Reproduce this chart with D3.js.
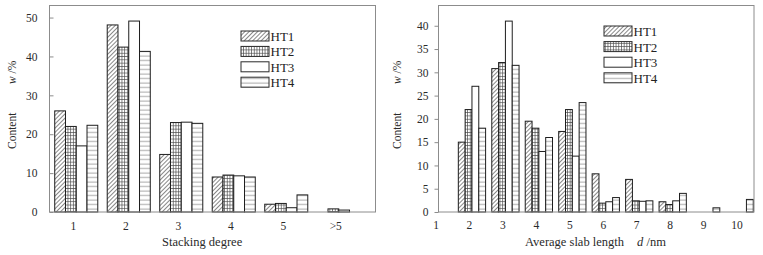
<!DOCTYPE html>
<html>
<head>
<meta charset="utf-8">
<script src="https://cdn.jsdelivr.net/npm/d3@7/dist/d3.min.js"></script>
<style>
    body { margin: 0; background: #fff; }
    svg { display: block; font-family: "Liberation Serif", "Times New Roman", serif; }
</style>
</head>
<body>
<svg id="chart" width="763" height="255"></svg>
<script>
const seriesNames = ['HT1', 'HT2', 'HT3', 'HT4'];

// left panel: stacking degree
const stackCats = ['1', '2', '3', '4', '5', '>5'];
const stackHT1 = [26.0, 48.1, 14.8, 9.0, 2.0, 0];
const stackHT2 = [22.0, 42.4, 23.0, 9.5, 2.2, 0.8];
const stackHT3 = [17.0, 49.1, 23.1, 9.3, 1.1, 0.5];
const stackHT4 = [22.3, 41.3, 22.8, 9.0, 4.4, 0];
const stackYTicks = [0, 10, 20, 30, 40, 50];

// right panel: average slab length
const lenCats = [2, 3, 4, 5, 6, 7, 8, 9, 10];
const lenHT1 = [15.0, 30.8, 19.5, 17.3, 8.2, 7.0, 2.2, 0, 0];
const lenHT2 = [22.0, 32.1, 18.0, 22.0, 1.9, 2.4, 1.6, 0, 0];
const lenHT3 = [27.0, 41.0, 13.0, 12.0, 2.2, 2.3, 2.4, 0, 0];
const lenHT4 = [18.0, 31.5, 16.0, 23.5, 3.1, 2.4, 4.0, 0.9, 2.7];
const lenXTicks = [1, 2, 3, 4, 5, 6, 7, 8, 9, 10];
const lenYTicks = [0, 5, 10, 15, 20, 25, 30, 35, 40];

const svg = d3.select('#chart');
const defs = svg.append('defs');

// fill patterns
let p1 = defs.append('pattern').attr('id', 'p-ht1')
    .attr('patternUnits', 'userSpaceOnUse').attr('width', 3).attr('height', 3)
    .attr('patternTransform', 'rotate(45)');
p1.append('rect').attr('width', 3).attr('height', 3).attr('fill', '#fff');
p1.append('line').attr('x1', 0.5).attr('y1', 0).attr('x2', 0.5).attr('y2', 3)
    .attr('stroke', '#6a6a6a').attr('stroke-width', 0.8);

let p2 = defs.append('pattern').attr('id', 'p-ht2')
    .attr('patternUnits', 'userSpaceOnUse').attr('width', 2.7).attr('height', 3.3);
p2.append('rect').attr('width', 2.7).attr('height', 3.3).attr('fill', '#fff');
p2.append('path').attr('d', 'M0.4,0V3.3M0,0.4H2.7')
    .attr('stroke', '#4a4a4a').attr('stroke-width', 0.7).attr('fill', 'none');

let p4 = defs.append('pattern').attr('id', 'p-ht4')
    .attr('patternUnits', 'userSpaceOnUse').attr('width', 4).attr('height', 4.5);
p4.append('rect').attr('width', 4).attr('height', 4.5).attr('fill', '#fff');
p4.append('line').attr('x1', 0).attr('y1', 2).attr('x2', 4).attr('y2', 2)
    .attr('stroke', '#8a8a8a').attr('stroke-width', 0.8);

const fills = { HT1: 'url(#p-ht1)', HT2: 'url(#p-ht2)', HT3: '#fff', HT4: 'url(#p-ht4)' };

class groupedBar {
    constructor(config) {
        this.config = config;
        this.init();
    }

    init() {
        let self = this;
        let c = self.config;
        self.g = svg.append('g');

        self.yscale = d3.scaleLinear().domain([0, c.yMax]).range([c.bottom, c.top]);

        if (c.linear) {
            self.xscale = d3.scaleLinear().domain(c.xDomain).range([c.left, c.right]);
            let unit = self.xscale(2) - self.xscale(1);
            let gw = unit * c.groupFrac;
            self.x1 = d3.scaleBand().domain(seriesNames).range([-gw / 2, gw / 2]);
            self.center = d => self.xscale(d);
        } else {
            self.xscale = d3.scaleBand().domain(c.cats).range(c.bandRange)
                .paddingInner(0.18).paddingOuter(0.09);
            let bw = self.xscale.bandwidth();
            self.x1 = d3.scaleBand().domain(seriesNames).range([-bw / 2, bw / 2]);
            self.center = d => self.xscale(d) + bw / 2;
        }
    }

    render() {
        let self = this;
        let c = self.config;

        // bars
        let rows = [];
        c.cats.forEach((cat, i) => {
            seriesNames.forEach((s, k) => {
                let v = c.values[k][i];
                if (v > 0) rows.push({ cat: cat, key: s, value: v });
            });
        });

        self.g.selectAll('.bar')
            .data(rows)
            .enter().append('rect')
            .attr('class', 'bar')
            .attr('x', d => self.center(d.cat) + self.x1(d.key))
            .attr('y', d => self.yscale(d.value))
            .attr('width', self.x1.bandwidth())
            .attr('height', d => self.yscale(0) - self.yscale(d.value))
            .attr('fill', d => fills[d.key])
            .attr('stroke', '#1e1e1e')
            .attr('stroke-width', 1);

        // frame
        self.g.append('rect')
            .attr('x', c.left).attr('y', c.top)
            .attr('width', c.right - c.left).attr('height', c.bottom - c.top)
            .attr('fill', 'none').attr('stroke', '#8c8c8c').attr('stroke-width', 1);

        // y axis
        let yaxis = d3.axisLeft(self.yscale).tickValues(c.yTicks)
            .tickSize(c.yTickSize).tickPadding(c.yTickPad);
        let yg = self.g.append('g').attr('transform', `translate(${c.left},0)`).call(yaxis);
        yg.select('.domain').remove();
        yg.selectAll('line').attr('stroke', '#8c8c8c');
        yg.selectAll('text').attr('font-size', 11.5).attr('fill', '#2a2a2a')
            .attr('font-family', '"Liberation Serif", serif');

        // x labels
        let xaxis = c.linear
            ? d3.axisBottom(self.xscale).tickValues(c.xTicks).tickSize(0)
            : d3.axisBottom(self.xscale).tickSize(0);
        let xg = self.g.append('g').attr('transform', `translate(0,${c.bottom})`).call(xaxis);
        xg.select('.domain').remove();
        xg.selectAll('text').attr('font-size', 11.5).attr('fill', '#2a2a2a')
            .attr('font-family', '"Liberation Serif", serif')
            .attr('dx', -3).attr('y', c.xLabelDy).attr('dy', 0);

        // x title
        let xt = self.g.append('text')
            .attr('x', c.xTitleX).attr('y', 245.5)
            .attr('font-size', 12.5).attr('fill', '#2a2a2a');
        xt.append('tspan').text(c.xTitle);
        if (c.xTitleUnit) {
            xt.append('tspan').attr('dx', 13).attr('font-style', 'italic').text('d');
            xt.append('tspan').text(' /nm');
        }

        // y title
        self.g.append('text')
            .attr('transform', `translate(${c.yTitleX},149) rotate(-90)`)
            .attr('font-size', 11.5).attr('fill', '#2a2a2a')
            .text('Content');
        let yt = self.g.append('text')
            .attr('transform', `translate(${c.yTitleX},84) rotate(-90)`)
            .attr('font-size', 11.5).attr('fill', '#2a2a2a');
        yt.append('tspan').attr('font-style', 'italic').text('w');
        yt.append('tspan').text(' /%');

        // legend
        let lg = self.g.append('g');
        seriesNames.forEach((s, k) => {
            let ly = c.legendY + k * c.legendStep;
            lg.append('rect')
                .attr('x', c.legendX).attr('y', ly)
                .attr('width', 28).attr('height', 10)
                .attr('fill', fills[s]).attr('stroke', '#2a2a2a').attr('stroke-width', 1);
            lg.append('text')
                .attr('x', c.legendX + 29.5).attr('y', ly + 10)
                .attr('font-size', 13).attr('fill', '#222')
                .text(s);
        });
    }
}

let leftChart = new groupedBar({
    cats: stackCats,
    values: [stackHT1, stackHT2, stackHT3, stackHT4],
    left: 49.5, right: 375.5, top: 5.5, bottom: 212,
    bandRange: [50, 365],
    yMax: 53.1, yTicks: stackYTicks, yTickSize: -4, yTickPad: 12,
    xLabelDy: 18, xTitle: 'Stacking degree', xTitleX: 162,
    yTitleX: 15.5,
    legendX: 241, legendY: 31, legendStep: 15.4
});
leftChart.render();

let rightChart = new groupedBar({
    linear: true,
    cats: lenCats,
    values: [lenHT1, lenHT2, lenHT3, lenHT4],
    xDomain: [1, 10.43], xTicks: lenXTicks, groupFrac: 0.815,
    left: 438.5, right: 754, top: 5.5, bottom: 212,
    yMax: 44.35, yTicks: lenYTicks, yTickSize: 4, yTickPad: 6,
    xLabelDy: 16.5, xTitle: 'Average slab length', xTitleUnit: true, xTitleX: 525,
    yTitleX: 401,
    legendX: 604, legendY: 26, legendStep: 15.6
});
rightChart.render();
</script>
</body>
</html>
